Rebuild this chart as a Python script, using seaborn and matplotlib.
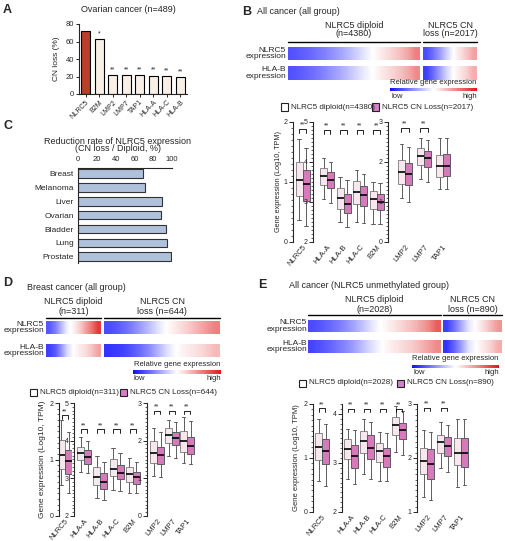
import numpy as np
import pandas as pd
import seaborn as sns
import matplotlib.pyplot as plt
from matplotlib.colors import LinearSegmentedColormap, Normalize
from matplotlib.cm import ScalarMappable
from matplotlib.ticker import MultipleLocator
from matplotlib.patches import Rectangle
from matplotlib.lines import Line2D

# ---- data ----
# panel A: CN loss in ovarian cancer
a_genes = ['NLRC5', 'B2M', 'LMP2', 'LMP7', 'TAP1', 'HLA-A', 'HLA-C', 'HLA-B']
a_loss = [72, 62.5, 21.5, 21.5, 21.5, 21, 20.5, 19.5]
a_sig = ['', '*', '**', '**', '**', '**', '**', '**']

# panel C: reduction rate of NLRC5 expression
c_cancer = ['Breast', 'Melanoma', 'Liver', 'Ovarian', 'Bladder', 'Lung', 'Prostate']
c_rate = [69, 71, 89, 88, 94, 95, 99]

# boxplots: [low whisker, Q1, median, Q3, high whisker]
genes = ['NLRC5', 'HLA-A', 'HLA-B', 'HLA-C', 'B2M', 'LMP2', 'LMP7', 'TAP1']

b_diploid = [[0.37, 0.76, 1.03, 1.34, 1.72], [3.08, 3.42, 3.65, 3.86, 4.10],
             [2.50, 2.83, 3.11, 3.36, 3.63], [2.51, 2.95, 3.24, 3.52, 3.81],
             [2.46, 2.82, 3.07, 3.28, 3.51], [1.09, 1.44, 1.74, 2.05, 2.44],
             [1.57, 1.92, 2.15, 2.34, 2.59], [1.33, 1.63, 1.90, 2.17, 2.61]]
b_cnloss = [[0.26, 0.69, 0.96, 1.20, 1.56], [2.97, 3.34, 3.55, 3.74, 3.99],
            [2.38, 2.72, 2.94, 3.19, 3.55], [2.47, 2.91, 3.18, 3.40, 3.71],
            [2.45, 2.80, 3.01, 3.19, 3.48], [1.01, 1.43, 1.69, 1.98, 2.38],
            [1.49, 1.88, 2.10, 2.28, 2.54], [1.32, 1.65, 1.90, 2.20, 2.61]]
b_sig = [1, 1, 1, 1, 1, 1, 1, 0]

d_diploid = [[0.55, 0.84, 1.08, 1.34, 1.70], [3.18, 3.49, 3.67, 3.84, 4.11],
             [2.48, 2.82, 3.04, 3.29, 3.59], [2.70, 3.06, 3.26, 3.51, 3.80],
             [2.60, 2.91, 3.11, 3.29, 3.53], [1.06, 1.40, 1.67, 2.00, 2.33],
             [1.59, 1.93, 2.15, 2.33, 2.56], [1.40, 1.71, 1.98, 2.26, 2.64]]
d_cnloss = [[0.41, 0.75, 0.98, 1.17, 1.48], [3.13, 3.38, 3.56, 3.75, 3.98],
            [2.42, 2.73, 2.89, 3.15, 3.44], [2.67, 2.97, 3.15, 3.35, 3.67],
            [2.60, 2.86, 3.04, 3.18, 3.44], [1.04, 1.37, 1.62, 1.84, 2.24],
            [1.53, 1.89, 2.07, 2.24, 2.49], [1.38, 1.65, 1.86, 2.11, 2.51]]
d_sig = [1, 1, 1, 1, 1, 1, 1, 1]

e_diploid = [[0.57, 0.96, 1.21, 1.47, 1.72], [2.68, 3.07, 3.29, 3.48, 3.70],
             [2.77, 3.20, 3.45, 3.65, 3.90], [2.63, 3.02, 3.24, 3.41, 3.63],
             [3.22, 3.56, 3.77, 3.94, 4.16], [1.28, 1.70, 1.95, 2.18, 2.52],
             [1.81, 2.10, 2.29, 2.43, 2.66], [1.47, 1.87, 2.09, 2.37, 2.72]]
e_cnloss = [[0.48, 0.89, 1.13, 1.35, 1.63], [2.58, 2.90, 3.14, 3.36, 3.67],
            [2.68, 3.07, 3.31, 3.56, 3.84], [2.63, 2.92, 3.14, 3.31, 3.61],
            [3.16, 3.48, 3.67, 3.82, 4.06], [1.22, 1.62, 1.88, 2.16, 2.49],
            [1.75, 2.04, 2.22, 2.39, 2.61], [1.50, 1.83, 2.09, 2.37, 2.72]]
e_sig = [1, 1, 1, 1, 1, 1, 1, 0]

# heatmap strips (patients sorted, relative expression -1..1)
b_heat_dip_nlrc5 = [-0.72, -0.68, -0.64, -0.58, -0.52, -0.45, -0.37, -0.28, -0.18, -0.08, 0.02, 0.1, 0.18, 0.27, 0.38, 0.55]
b_heat_dip_hlab = [-0.72, -0.68, -0.63, -0.57, -0.5, -0.42, -0.34, -0.25, -0.15, -0.06, 0.02, 0.1, 0.17, 0.25, 0.35, 0.5]
b_heat_loss_nlrc5 = [-0.75, -0.6, -0.42, -0.2, 0.0, 0.12, 0.25, 0.4]
b_heat_loss_hlab = [-0.8, -0.62, -0.4, -0.18, 0.0, 0.1, 0.2, 0.35]
d_heat_dip_nlrc5 = [-0.7, -0.55, -0.3, -0.05, 0.05, 0.2, 0.4, 0.6, 0.85]
d_heat_dip_hlab = [-0.8, -0.7, -0.45, -0.15, 0.0, 0.08, 0.15, 0.25, 0.4]
d_heat_loss_nlrc5 = [-0.75, -0.7, -0.62, -0.52, -0.4, -0.27, -0.12, 0.0, 0.08, 0.16, 0.25, 0.35, 0.45, 0.55]
d_heat_loss_hlab = [-0.85, -0.82, -0.78, -0.7, -0.6, -0.48, -0.32, -0.15, -0.02, 0.05, 0.1, 0.15, 0.22, 0.3]
e_heat_dip_nlrc5 = [-0.75, -0.7, -0.64, -0.57, -0.48, -0.38, -0.26, -0.13, -0.02, 0.05, 0.12, 0.2, 0.28, 0.38, 0.5, 0.7]
e_heat_dip_hlab = [-0.78, -0.72, -0.66, -0.58, -0.5, -0.4, -0.28, -0.15, -0.04, 0.04, 0.1, 0.16, 0.22, 0.3, 0.4, 0.5]
e_heat_loss_nlrc5 = [-0.8, -0.6, -0.35, -0.1, 0.02, 0.15, 0.3, 0.45]
e_heat_loss_hlab = [-0.85, -0.65, -0.4, -0.12, 0.0, 0.1, 0.2, 0.35]

W, H = 505, 541
DIP_COL = '#fbe4ef'
LOSS_COL = '#e46cc2'
cmap = LinearSegmentedColormap.from_list('bwr2', ['#1010ff', '#ffffff', '#e01818'])

sns.set_style('ticks')
plt.rcParams['font.family'] = ['Liberation Sans', 'DejaVu Sans']
plt.rcParams['axes.linewidth'] = 0.8

fig = plt.figure(figsize=(W / 100, H / 100), dpi=100)


def add_ax(x0, y0, x1, y1):
    # pixel box -> figure axes
    return fig.add_axes([x0 / W, 1 - y1 / H, (x1 - x0) / W, (y1 - y0) / H])


def ftext(x, y, s, **kw):
    kw.setdefault('va', 'center')
    fig.text(x / W, 1 - y / H, s, **kw)


def fline(x0, x1, y):
    fig.add_artist(Line2D([x0 / W, x1 / W], [1 - y / H, 1 - y / H], color='black', lw=1.0))


def fsquare(x, y, fc):
    fig.add_artist(Rectangle((x / W, 1 - (y + 7) / H), 7 / W, 7 / H, fc=fc, ec='#222222', lw=0.8))


def strip(x0, x1, y0, y1, vals):
    ax = add_ax(x0, y0, x1, y1)
    ax.imshow(np.array([vals]), aspect='auto', cmap=cmap, vmin=-1, vmax=1,
              interpolation='bilinear', extent=(0, len(vals), 0, 1))
    ax.set_axis_off()


def heat_block(cfg):
    (xd0, xd1, xl0, xl1, r1, r2, line_y, hdr, n_dip, n_loss, lab_x, cb, vals) = cfg
    fline(xd0, xd1, line_y)
    fline(xl0, xl1, line_y)
    ftext((xd0 + xd1) / 2, hdr, 'NLRC5 diploid', ha='center', fontsize=6.5)
    ftext((xd0 + xd1) / 2, hdr + 9, f'(n={n_dip})', ha='center', fontsize=6.5)
    ftext((xl0 + xl1) / 2, hdr, 'NLRC5 CN', ha='center', fontsize=6.5)
    ftext((xl0 + xl1) / 2, hdr + 9, f'loss (n={n_loss})', ha='center', fontsize=6.5)
    strip(xd0, xd1, r1[0], r1[1], vals[0])
    strip(xl0, xl1, r1[0], r1[1], vals[1])
    strip(xd0, xd1, r2[0], r2[1], vals[2])
    strip(xl0, xl1, r2[0], r2[1], vals[3])
    ftext(lab_x, (r1[0] + r1[1]) / 2, 'NLRC5\nexpression', ha='right', fontsize=6, linespacing=0.9)
    ftext(lab_x, (r2[0] + r2[1]) / 2, 'HLA-B\nexpression', ha='right', fontsize=6, linespacing=0.9)
    cx0, cx1, cy0, cy1 = cb
    cax = add_ax(cx0, cy0, cx1, cy1)
    cbar = fig.colorbar(ScalarMappable(Normalize(-1, 1), cmap), cax=cax, orientation='horizontal')
    cbar.set_ticks([])
    cbar.outline.set_visible(False)
    ftext((cx0 + cx1) / 2, cy0 - 6, 'Relative gene expression', ha='center', fontsize=5.5)
    ftext(cx0 + 1, cy1 + 5, 'low', ha='left', fontsize=5.5)
    ftext(cx1, cy1 + 5, 'high', ha='right', fontsize=5.5)


def legend_row(y, xs, n_dip, n_loss):
    fsquare(xs[0], y - 3.5, 'white')
    ftext(xs[0] + 10, y, f'NLRC5 diploid(n={n_dip})', ha='left', fontsize=5.8)
    fsquare(xs[1], y - 3.5, '#d77fcc')
    ftext(xs[1] + 10, y, f'NLRC5 CN Loss(n={n_loss})', ha='left', fontsize=5.8)


def box_group(px, y0, y1, idx, dip, loss, sig, ylim, br_y):
    x0, x1, c0, sp = px
    ax = add_ax(x0, y0, x1, y1)
    rows = []
    for i in idx:
        for v in dip[i]:
            rows.append((genes[i], 'diploid', v))
        for v in loss[i]:
            rows.append((genes[i], 'loss', v))
    df = pd.DataFrame(rows, columns=['gene', 'group', 'value'])
    sns.boxplot(data=df, x='gene', y='value', hue='group', palette=[DIP_COL, LOSS_COL],
                whis=(0, 100), width=14 / sp, gap=0, showfliers=False, linecolor='#5c5c5c',
                linewidth=0.7, medianprops={'color': 'black', 'linewidth': 1.2},
                legend=False, ax=ax)
    # lighter outline on the diploid boxes, as in the figure
    for p in ax.patches:
        if np.allclose(p.get_facecolor()[:3], plt.matplotlib.colors.to_rgb(DIP_COL), atol=0.02):
            p.set_edgecolor('#8a8a8a')
    ax.set_xlim((x0 - c0) / sp, (x1 - c0) / sp)
    ax.set_ylim(*ylim)
    ax.set_xlabel('')
    ax.set_ylabel('')
    sns.despine(ax=ax, bottom=True)
    ax.yaxis.set_major_locator(MultipleLocator(1))
    ax.yaxis.set_minor_locator(MultipleLocator(0.1))
    ax.tick_params(axis='y', which='major', length=3, width=0.7, labelsize=5, pad=1)
    ax.tick_params(axis='y', which='minor', length=1.5, width=0.5)
    ax.tick_params(axis='x', length=0, labelsize=5.5, pad=1)
    plt.setp(ax.get_xticklabels(), rotation=50, ha='right', rotation_mode='anchor')
    dy = (ylim[1] - ylim[0]) * 0.03
    for k, i in enumerate(idx):
        if sig[i]:
            ax.plot([k - 0.2, k - 0.2, k + 0.2, k + 0.2], [br_y - dy, br_y, br_y, br_y - dy],
                    color='black', lw=0.6, clip_on=False)
            ax.text(k, br_y + dy * 0.1, '**', ha='center', va='bottom', fontsize=5, clip_on=False)


def box_panel(y0, y1, pxs, dip, loss, sig, ylims, br_ys, lab_x, lab_fs):
    groups = [[0], [1, 2, 3, 4], [5, 6, 7]]
    for px, idx, ylim, by in zip(pxs, groups, ylims, br_ys):
        box_group(px, y0, y1, idx, dip, loss, sig, ylim, by)
    ftext(lab_x, (y0 + y1) / 2, 'Gene expression (Log10, TPM)', ha='center',
          rotation=90, fontsize=lab_fs)


# ---- panel letters and titles ----
ftext(3, 10, 'A', fontsize=9, fontweight='bold')
ftext(242, 12, 'B', fontsize=9, fontweight='bold')
ftext(3, 126, 'C', fontsize=9, fontweight='bold')
ftext(3, 283, 'D', fontsize=9, fontweight='bold')
ftext(258, 285, 'E', fontsize=9, fontweight='bold')

# ---- A ----
ftext(128, 10, 'Ovarian cancer (n=489)', ha='center', fontsize=6.5)
ax = add_ax(79, 24, 187, 94)
sns.barplot(x=a_genes, y=a_loss, hue=a_genes,
            palette=['#d0300f'] + ['#fbf0e3'] * 7, edgecolor='black', linewidth=0.8,
            width=0.68, legend=False, ax=ax)
ax.set_xlim(-0.5, 7.5)
ax.set_ylim(0, 80)
ax.set_yticks([0, 20, 40, 60, 80])
sns.despine(ax=ax)
ax.tick_params(labelsize=5.5, length=2.5, width=0.7, pad=1)
plt.setp(ax.get_xticklabels(), rotation=45, ha='right', rotation_mode='anchor', fontsize=5)
for i, s in enumerate(a_sig):
    ax.text(i, a_loss[i] + 2, s, ha='center', va='bottom', fontsize=5)
ftext(57, 59, 'CN loss (%)', ha='center', rotation=90, fontsize=6)

# ---- C ----
ftext(118, 141, 'Reduction rate of NLRC5 expression', ha='center', fontsize=6.5)
ftext(118, 149, '(CN loss / Diploid, %)', ha='center', fontsize=6.5)
ax = add_ax(78, 168, 172, 263)
sns.barplot(x=c_rate, y=c_cancer, color='#a9bfe3', edgecolor='#333333', linewidth=0.8,
            width=0.62, orient='h', ax=ax)
ax.set_xlim(0, 100)
ax.set_ylim(6.45, -0.4)
ax.xaxis.tick_top()
ax.set_xticks([0, 20, 40, 60, 80, 100])
sns.despine(ax=ax, top=False, bottom=True)
ax.tick_params(labelsize=5.5, length=2.5, width=0.7, pad=1)
ax.tick_params(axis='y', length=0, pad=3, labelsize=6)

# ---- B ----
ftext(257, 12, 'All cancer (all group)', ha='left', fontsize=6.5)
heat_block((288, 420, 423, 477, (47, 60), (66, 80), 42, 25, 4380, 2017, 286,
            (390, 477, 88, 91),
            [b_heat_dip_nlrc5, b_heat_loss_nlrc5, b_heat_dip_hlab, b_heat_loss_hlab]))
legend_row(107, (281, 372), 4380, 2017)
box_panel(122, 242,
          [(293, 312, 302.5, 18), (313, 385, 327, 16.5), (388, 454, 405, 19)],
          b_diploid, b_cnloss, b_sig, [(0, 2), (2, 5), (0, 3)], [1.88, 4.8, 2.85], 279, 5.2)

# ---- D ----
ftext(27, 288, 'Breast cancer (all group)', ha='left', fontsize=6.5)
heat_block((46, 101, 104, 220, (321, 334), (344, 357), 318, 302, 311, 644, 44,
            (133, 221, 370, 374),
            [d_heat_dip_nlrc5, d_heat_loss_nlrc5, d_heat_dip_hlab, d_heat_loss_hlab]))
legend_row(392, (30, 120), 311, 644)
box_panel(403, 516,
          [(59, 72, 65, 16), (74, 143, 84, 16.3), (147, 197, 157, 15)],
          d_diploid, d_cnloss, d_sig, [(0, 2), (2, 5), (0, 3)], [1.78, 4.3, 2.8], 42, 6)

# ---- E ----
ftext(289, 286, 'All cancer (NLRC5 unmethylated group)', ha='left', fontsize=6.5)
heat_block((308, 441, 443, 502, (320, 332), (340, 353), 315, 300, 2028, 890, 307,
            (412, 499, 365, 368),
            [e_heat_dip_nlrc5, e_heat_loss_nlrc5, e_heat_dip_hlab, e_heat_loss_hlab]))
legend_row(383, (299, 397), 2028, 890)
box_panel(404, 512,
          [(313, 331, 322, 17), (342, 407, 351, 16), (417, 472, 427, 17)],
          e_diploid, e_cnloss, e_sig, [(0, 2), (2, 4.2), (1, 3)], [1.92, 4.1, 2.93], 297, 5.5)

fig.savefig('out.png', dpi=100)
